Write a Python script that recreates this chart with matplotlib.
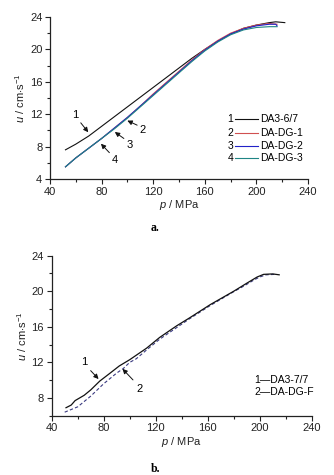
import matplotlib
matplotlib.use("Agg")
import matplotlib.pyplot as plt
from matplotlib.ticker import MultipleLocator

plt.rcParams['font.family'] = ['Liberation Sans', 'DejaVu Sans']
plt.rcParams['mathtext.fontset'] = 'custom'
plt.rcParams['mathtext.rm'] = 'Liberation Sans'
plt.rcParams['mathtext.it'] = 'Liberation Sans:italic'
plt.rcParams['font.size'] = 8

# panel a: burning rate u vs pressure p
p_a1 = [52, 60, 70, 80, 90, 100, 110, 120, 130, 140, 150, 160, 170, 180, 190, 200, 210, 215, 222]
u_a1 = [7.6, 8.3, 9.3, 10.5, 11.7, 12.9, 14.1, 15.3, 16.5, 17.7, 18.9, 20.0, 21.0, 21.9, 22.6, 23.0, 23.3, 23.4, 23.3]
p_a2 = [52, 60, 70, 80, 90, 100, 110, 120, 130, 140, 150, 160, 170, 180, 190, 200, 210, 216]
u_a2 = [5.5, 6.6, 7.8, 9.0, 10.3, 11.6, 13.0, 14.5, 15.9, 17.3, 18.7, 20.0, 21.1, 22.0, 22.6, 23.0, 23.2, 23.1]
p_a3 = [52, 60, 70, 80, 90, 100, 110, 120, 130, 140, 150, 160, 170, 180, 190, 200, 210, 215, 216]
u_a3 = [5.5, 6.6, 7.8, 9.0, 10.3, 11.6, 13.0, 14.4, 15.8, 17.2, 18.6, 19.9, 21.0, 21.9, 22.5, 22.9, 23.1, 23.1, 22.9]
p_a4 = [52, 60, 70, 80, 90, 100, 110, 120, 130, 140, 150, 160, 170, 180, 190, 200, 210, 216]
u_a4 = [5.5, 6.6, 7.8, 9.0, 10.2, 11.5, 12.9, 14.3, 15.7, 17.1, 18.5, 19.8, 20.9, 21.8, 22.4, 22.7, 22.8, 22.8]
labels_a = ['DA3-6/7', 'DA-DG-1', 'DA-DG-2', 'DA-DG-3']
colors_a = ['#111111', '#d05050', '#2222c8', '#1f8585']

# panel b
p_b1 = [51, 55, 58, 65, 70, 77, 85, 92, 100, 103, 113, 123, 136, 146, 162, 180, 190, 198, 203, 210, 215]
u_b1 = [6.9, 7.2, 7.7, 8.3, 8.9, 9.9, 10.8, 11.6, 12.3, 12.6, 13.6, 14.8, 16.1, 17.0, 18.5, 20.0, 20.9, 21.6, 21.9, 21.95, 21.85]
p_b2 = [50, 55, 60, 65, 70, 75, 80, 85, 90, 95, 100, 105, 113, 123, 136, 146, 162, 180, 188, 196, 200, 205, 212]
u_b2 = [6.4, 6.7, 7.0, 7.6, 8.2, 8.9, 9.6, 10.2, 10.8, 11.3, 12.0, 12.4, 13.4, 14.6, 15.9, 16.9, 18.4, 19.95, 20.6, 21.3, 21.6, 21.85, 21.9]
labels_b = ['DA3-7/7', 'DA-DG-F']


def style_axes(ax, ylim, ystep):
    ax.set_xlim(40, 240)
    ax.set_ylim(*ylim)
    ax.xaxis.set_major_locator(MultipleLocator(40))
    ax.xaxis.set_minor_locator(MultipleLocator(20))
    ax.yaxis.set_major_locator(MultipleLocator(ystep))
    ax.yaxis.set_minor_locator(MultipleLocator(ystep / 2))
    for side in ['top', 'right']:
        ax.spines[side].set_visible(False)
    for side in ['left', 'bottom']:
        ax.spines[side].set_linewidth(0.9)
        ax.spines[side].set_color('#222222')
    ax.tick_params(which='major', direction='out', length=3.5, width=0.8, color='#222222',
                   labelsize=8, labelcolor='#222222', pad=2)
    ax.tick_params(which='minor', direction='out', length=2, width=0.8, color='#222222')
    ax.set_xlabel(r'$\it{p}$ / MPa', fontsize=8, labelpad=1, color='#222222')
    ax.set_ylabel(r'$\it{u}$ / cm$\cdot$s$^{-1}$', fontsize=8, labelpad=2, color='#222222')


def arrow(ax, label, text_xy, tip_xy, tail_xy):
    ax.annotate('', xy=tip_xy, xytext=tail_xy,
                arrowprops=dict(arrowstyle='-|>', color='#111111', lw=0.7, mutation_scale=7))
    ax.text(text_xy[0], text_xy[1], label, fontsize=8, ha='center', va='center')


fig = plt.figure(figsize=(3.34, 4.75), dpi=100)

# --- panel a
ax1 = fig.add_axes([0.1497, 0.6232, 0.7725, 0.3411])
series_a = [(p_a1, u_a1), (p_a2, u_a2), (p_a3, u_a3), (p_a4, u_a4)]
for (p, u), c in zip(series_a, colors_a):
    ax1.plot(p, u, color=c, lw=0.8)
style_axes(ax1, (4, 24), 4)

arrow(ax1, '1', (59.5, 11.9), (71, 9.5), (62.5, 11.2))
arrow(ax1, '2', (112, 10.0), (98, 11.35), (109.5, 10.5))
arrow(ax1, '3', (102, 8.2), (88.5, 10.0), (99, 8.8))
arrow(ax1, '4', (90, 6.3), (78, 8.6), (87.5, 7.0))

# legend drawn by hand: number, short line, name
legend_rows_a = [0.37, 0.282, 0.205, 0.128]
for i, (lab, c) in enumerate(zip(labels_a, colors_a)):
    y = legend_rows_a[i]
    ax1.text(0.70, y, str(i + 1), transform=ax1.transAxes, fontsize=7.5, ha='center', va='center')
    ax1.plot([0.717, 0.807], [y, y], transform=ax1.transAxes, color=c, lw=0.8)
    ax1.text(0.814, y, lab, transform=ax1.transAxes, fontsize=7.5, ha='left', va='center')

fig.text(0.465, 0.52, 'a.', family=['Liberation Serif', 'DejaVu Serif'], weight='bold', fontsize=8.5,
         ha='center', va='center')

# --- panel b
ax2 = fig.add_axes([0.1548, 0.1248, 0.7784, 0.3369])
ax2.plot(p_b2, u_b2, color='#3a3a80', lw=0.8, ls=(0, (3, 2)))
ax2.plot(p_b1, u_b1, color='#111111', lw=0.9)
style_axes(ax2, (6, 24), 4)

arrow(ax2, '1', (65, 12.0), (77.5, 9.9), (68.5, 11.3))
arrow(ax2, '2', (107.5, 9.0), (93, 11.5), (104, 9.8))

legend_rows_b = [0.223, 0.148]
for i, lab in enumerate(labels_b):
    ax2.text(0.778, legend_rows_b[i], str(i + 1) + '\u2014' + lab, transform=ax2.transAxes,
             fontsize=7.5, ha='left', va='center')

fig.text(0.465, 0.0126, 'b.', family=['Liberation Serif', 'DejaVu Serif'], weight='bold', fontsize=8.5,
         ha='center', va='center')

fig.savefig('out.png', dpi=100, facecolor='white')
